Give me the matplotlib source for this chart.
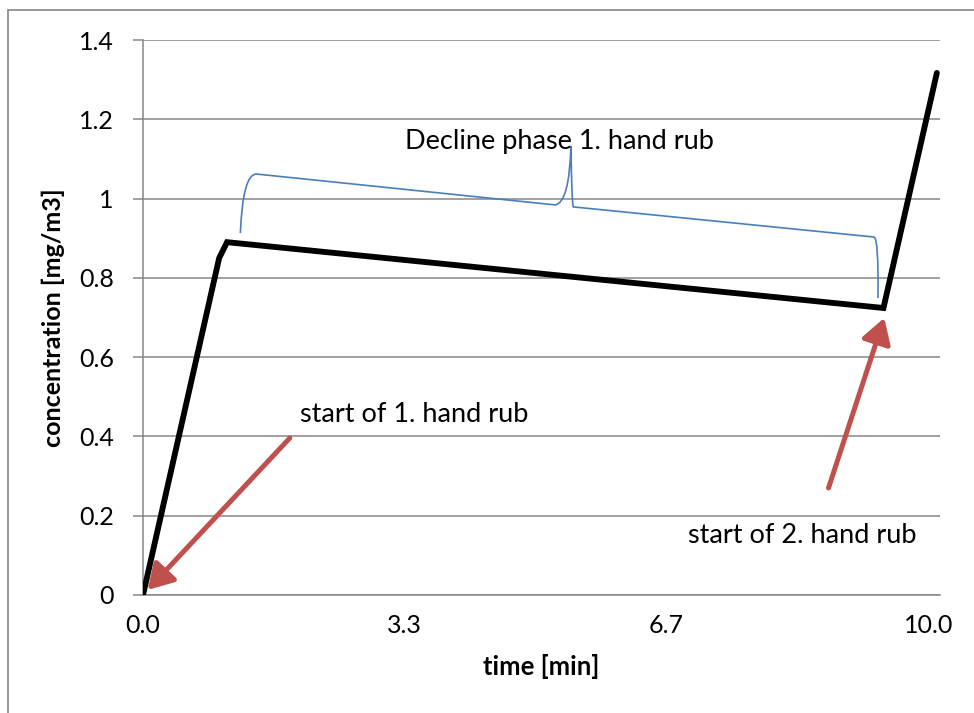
import matplotlib
matplotlib.use("Agg")
import matplotlib.pyplot as plt
from matplotlib.path import Path
from matplotlib.patches import PathPatch, FancyArrowPatch, Rectangle
import matplotlib.patheffects as pe

plt.rcParams['font.family'] = ['Lato', 'DejaVu Sans']

# concentration curve
time_min = [0.0, 0.97, 1.07, 9.43, 10.11]
conc = [0.0, 0.85, 0.89, 0.724, 1.317]

x_ticks = [0.0, 10 / 3, 20 / 3, 10.0]
x_labels = ["0.0", "3.3", "6.7", "10.0"]
y_ticks = [0, 0.2, 0.4, 0.6, 0.8, 1.0, 1.2, 1.4]
y_labels = ["0", "0.2", "0.4", "0.6", "0.8", "1", "1.2", "1.4"]

# curly brace over the decline phase (data coords)
brace_pts = [(1.24, 0.913), (1.27, 1.06), (1.44, 1.062),
             (5.25, 0.984), (5.43, 0.99), (5.45, 1.133),
             (5.46, 0.985), (5.48, 0.979),
             (9.31, 0.903), (9.37, 0.90), (9.36, 0.749)]
brace_codes = [Path.MOVETO, Path.CURVE3, Path.CURVE3,
               Path.LINETO, Path.CURVE3, Path.CURVE3,
               Path.CURVE3, Path.CURVE3,
               Path.LINETO, Path.CURVE3, Path.CURVE3]

arrows = [((1.87, 0.396), (0.06, 0.013)),
          ((8.73, 0.27), (9.44, 0.699))]
notes = [("start of 1. hand rub", 2.0, 0.455),
         ("start of 2. hand rub", 6.94, 0.151),
         ("Decline phase 1. hand rub", 3.34, 1.143)]

grey = "#868686"
red = "#C0504D"
blue = "#4A7EBB"

fig = plt.figure(figsize=(9.74, 7.13), dpi=100)
fig.patches.append(Rectangle((8 / 974, -0.05), 1.1, 1 - 10 / 713 + 0.05,
                             transform=fig.transFigure, fill=False,
                             edgecolor=grey, lw=1.2))
ax = fig.add_axes([143 / 974, 1 - 595 / 713, (940 - 143) / 974, (595 - 40) / 713])

ax.plot(time_min, conc, color="black", lw=4.2, solid_joinstyle="miter",
        solid_capstyle="round", zorder=3)

ax.add_patch(PathPatch(Path(brace_pts, brace_codes), fill=False,
                       edgecolor=blue, lw=1.2, zorder=2))

for tail, head in arrows:
    arr = FancyArrowPatch(tail, head, arrowstyle="-|>,head_length=0.75,head_width=0.45",
                          color=red, lw=3.6, mutation_scale=20, shrinkA=0, shrinkB=0,
                          zorder=4)
    arr.set_path_effects([pe.SimplePatchShadow(offset=(1.5, -1.5), alpha=0.25),
                          pe.Normal()])
    ax.add_patch(arr)

for txt, x, y in notes:
    ax.text(x, y, txt, fontsize=19.5, va="center", ha="left", zorder=5)

ax.set_xlim(0, 10.15)
ax.set_ylim(0, 1.4)
ax.set_xticks(x_ticks)
ax.set_xticklabels(x_labels, fontsize=18)
ax.set_yticks(y_ticks)
ax.set_yticklabels(y_labels, fontsize=18)
ax.tick_params(axis="x", length=0, pad=14)
ax.tick_params(axis="y", length=7, width=1.1, color=grey, pad=14)

ax.grid(axis="y", color=grey, lw=1.1)
ax.set_axisbelow(True)
for side in ["top", "right"]:
    ax.spines[side].set_visible(False)
for side in ["left", "bottom"]:
    ax.spines[side].set_color(grey)
    ax.spines[side].set_linewidth(1.1)

ax.set_xlabel("time [min]", fontsize=18.5, fontweight="bold", labelpad=12)
ax.set_ylabel("concentration [mg/m3]", fontsize=18, fontweight="bold", labelpad=10)

fig.savefig("out.png", dpi=100)
